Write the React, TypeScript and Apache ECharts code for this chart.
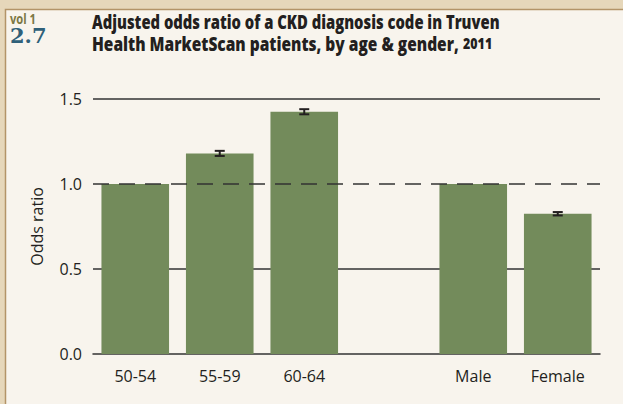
import React, { useEffect, useRef } from "react";
import * as echarts from "echarts";

const categories = ["50-54", "55-59", "60-64", "", "Male", "Female"];
const oddsRatio: (number | null)[] = [1.0, 1.18, 1.425, null, 1.0, 0.825];
const ciLow: (number | null)[] = [null, 1.165, 1.41, null, null, 0.815];
const ciHigh: (number | null)[] = [null, 1.195, 1.44, null, null, 0.835];
const yTicks = { min: 0, max: 1.5, interval: 0.5 };

const titleLine1 = "Adjusted odds ratio of a CKD diagnosis code in Truven";
const titleLine2 = "Health MarketScan patients, by age & gender, ";
const titleYear = "2011";

export default function App() {
  const ref = useRef<HTMLDivElement>(null);
  useEffect(() => {
    if (!ref.current) return;
    const chart = echarts.init(ref.current, undefined, { renderer: "svg" });
    const errData = categories
      .map((_, i) => [i, ciLow[i], ciHigh[i]])
      .filter((d) => d[1] != null);
    const font = "'Open Sans', 'Noto Sans', sans-serif";
    chart.setOption({
      animation: false,
      backgroundColor: "#e6d7ba",
      graphic: [
        {
          type: "rect",
          z: -10,
          shape: { x: 5.5, y: 9.5, width: 700, height: 500 },
          style: { fill: "#f8f4ed", stroke: "#b39468", lineWidth: 1.5 },
        },
        {
          type: "text",
          x: 10,
          y: 11,
          scaleX: 0.8,
          style: {
            text: "vol 1",
            font: `bold 14px ${font}`,
            fill: "#7c7843",
          },
        },
        {
          type: "text",
          x: 10,
          y: 25,
          style: {
            text: "2.7",
            font: "bold 21px 'DejaVu Serif', 'Liberation Serif', serif",
            fill: "#2f6079",
          },
        },
        {
          type: "text",
          x: 92,
          y: 11,
          scaleX: 0.74,
          style: {
            text: titleLine1,
            font: `800 20px ${font}`,
            fill: "#231f20",
          },
        },
        {
          type: "text",
          x: 92,
          y: 33,
          scaleX: 0.775,
          style: {
            text: `{a|${titleLine2}}{b|${titleYear}}`,
            rich: {
              a: { font: `800 20px ${font}`, fill: "#231f20" },
              b: { font: `800 16px ${font}`, fill: "#231f20" },
            },
          },
        },
      ],
      grid: { left: 93, right: 23, top: 99, bottom: 50 },
      xAxis: {
        type: "category",
        data: categories,
        axisTick: { show: false },
        axisLine: { lineStyle: { color: "#333", width: 1.5 } },
        axisLabel: { color: "#231f20", fontSize: 16, fontFamily: font, margin: 14 },
      },
      yAxis: {
        type: "value",
        min: yTicks.min,
        max: yTicks.max,
        interval: yTicks.interval,
        name: "Odds ratio",
        nameLocation: "middle",
        nameGap: 48,
        nameTextStyle: { color: "#231f20", fontSize: 16, fontFamily: font },
        axisLine: { show: false },
        axisTick: { show: false },
        axisLabel: {
          color: "#231f20",
          fontSize: 16,
          fontFamily: font,
          margin: 11,
          formatter: (v: number) => v.toFixed(1),
        },
        splitLine: {
          show: true,
          lineStyle: {
            color: ["rgba(0,0,0,0)", "#333", "rgba(0,0,0,0)", "#333"],
            width: 1.5,
          },
        },
      },
      series: [
        {
          type: "bar",
          data: oddsRatio.map((v) => (v == null ? "-" : v)),
          barWidth: "80%",
          itemStyle: { color: "#738b5b" },
          markLine: {
            silent: true,
            symbol: "none",
            label: { show: false },
            lineStyle: { type: [16, 10], color: "#333", width: 1.5 },
            data: [{ yAxis: 1 }],
          },
        },
        {
          type: "custom",
          data: errData,
          encode: { x: 0, y: [1, 2] },
          z: 10,
          renderItem: (params: any, api: any) => {
            const x = api.value(0);
            const lo = api.coord([x, api.value(1)]);
            const hi = api.coord([x, api.value(2)]);
            const w = 5;
            const style = { stroke: "#231f20", lineWidth: 2 };
            return {
              type: "group",
              children: [
                { type: "line", shape: { x1: lo[0], y1: lo[1], x2: hi[0], y2: hi[1] }, style },
                { type: "line", shape: { x1: lo[0] - w, y1: lo[1], x2: lo[0] + w, y2: lo[1] }, style },
                { type: "line", shape: { x1: hi[0] - w, y1: hi[1], x2: hi[0] + w, y2: hi[1] }, style },
              ],
            };
          },
        },
      ],
    });
    return () => chart.dispose();
  }, []);
  return (
    <div
      ref={ref}
      style={{ position: "fixed", left: 0, top: 0, width: 623, height: 404 }}
    />
  );
}
